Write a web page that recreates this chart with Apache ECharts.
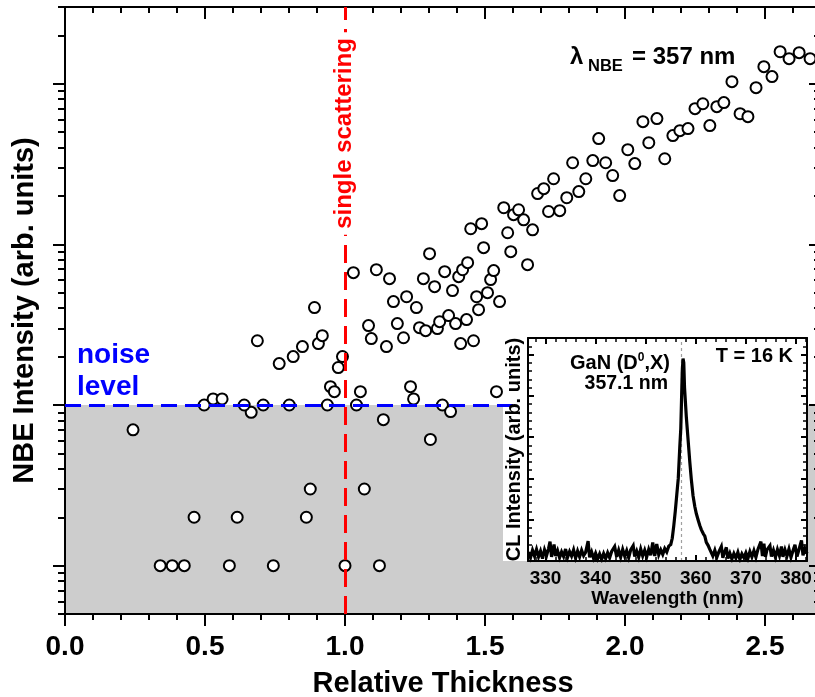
<!DOCTYPE html>
<html><head><meta charset="utf-8">
<script src="https://cdn.jsdelivr.net/npm/echarts@6/dist/echarts.min.js"></script>
<style>html,body{margin:0;padding:0;background:#fff;overflow:hidden}#c{width:815px;height:697px}</style>
</head><body><div id="c"></div>
<script>
// ---- main scatter: relative thickness vs NBE intensity (arb. units, log) ----
const thickness = [0.243,0.340,0.383,0.426,0.461,0.587,0.615,0.744,0.862,0.876,1.000,1.069,1.123,1.137,1.305,0.665,
0.497,0.529,0.561,0.640,0.708,0.801,0.937,1.041,1.348,1.245,1.234,0.948,0.962,1.055,1.541,1.377,
0.687,0.765,0.815,0.848,0.891,0.905,0.919,0.976,0.991,1.030,1.084,1.094,1.112,1.148,1.159,1.173,1.187,1.209,
1.220,1.255,1.266,1.280,1.288,1.302,1.320,1.330,1.338,1.356,1.370,1.384,1.395,1.406,1.413,1.420,1.434,1.438,
1.449,1.459,1.470,1.477,1.488,1.495,1.509,1.520,1.531,1.552,1.567,1.581,1.592,1.602,1.620,1.638,1.652,1.670,
1.688,1.710,1.727,1.745,1.767,1.792,1.813,1.835,1.860,1.885,1.906,1.931,1.956,1.981,2.010,2.035,2.064,2.085,
2.114,2.142,2.171,2.196,2.225,2.250,2.278,2.303,2.328,2.353,2.382,2.411,2.439,2.468,2.496,2.525,2.554,2.586,
2.622,2.661];
const nbeIntensity = [7.0,1.0,1.0,1.0,2.0,1.0,2.0,1.0,2.0,3.0,1.0,3.0,1.0,8.1,6.1,9.0,
10,10.9,10.9,10,10,10,10,10,10,10.9,13.0,13.0,12.1,12.1,12.1,9.1,
25.1,18.1,20.0,23.1,40.4,24.1,27.0,17.1,20.0,66.6,31.2,25.9,69.5,23.1,61.1,44.0,32.1,26.2,
47.2,40.4,30.3,61.1,29.0,87.5,54.5,29.9,33.0,67.6,36.0,51.5,32.1,62.9,24.1,69.5,34.0,76.9,
125,25.1,47.2,39.2,134.5,95.3,50.0,60.3,68.6,44.0,169,118,90.0,153,164,142,74.7,123,
207,222,160,256,162,195,322,213,256,332,455,322,268,201,388,318,580,429,
606,341,475,510,525,699,750,548,719,762,1029,650,623,944,1276,1106,1581,1431,
1559,1431];
const noiseLevel = 10;
const singleScattering = 1.0;

// ---- inset: CL spectrum ----
const wavelength = [326.6,327.0,327.4,327.8,328.2,328.6,329.0,329.4,329.8,330.2,330.6,330.9,331.2,331.7,332.0,332.4,
332.8,333.2,333.6,334.0,334.4,334.8,335.2,335.6,336.0,336.4,336.8,337.2,337.6,338.0,338.5,338.8,339.2,339.6,
340.0,340.4,340.8,341.2,341.6,342.0,342.4,342.8,343.2,343.8,344.2,344.6,345.0,345.4,345.8,346.2,346.6,347.0,
347.5,347.8,348.2,348.6,349.0,349.4,349.8,350.2,350.6,351.0,351.4,351.8,352.2,352.6,353.0,353.4,353.8,354.2,
354.6,355.0,355.3,355.6,355.9,356.2,356.5,356.8,357.0,357.15,357.3,357.45,357.6,357.75,357.9,358.1,358.45,
358.8,359.1,359.45,359.8,360.1,360.45,360.8,361.1,361.5,361.8,362.1,362.45,362.8,363.1,363.4,363.8,364.2,
364.6,365.1,365.4,365.7,366.1,366.4,366.8,367.2,367.6,368.0,368.4,368.8,369.2,369.6,370.0,370.4,370.8,371.2,
371.6,372.0,372.4,373.0,373.3,373.6,373.9,374.2,374.8,375.1,375.5,375.9,376.3,376.7,377.1,377.4,377.8,378.2,
378.6,379.0,379.4,379.8,380.2,380.6,381.1,381.4,381.8,382.2];
const clIntensity = [0.22,0.08,0.26,0.12,0.28,0.10,0.24,0.06,0.27,0.13,0.30,0.47,0.10,0.40,0.12,0.25,
0.08,0.22,0.11,0.29,0.09,0.23,0.12,0.27,0.07,0.24,0.10,0.26,0.13,0.21,0.48,0.09,0.22,0.06,
0.19,0.05,0.17,0.04,0.18,0.06,0.20,0.08,0.23,0.35,0.10,0.26,0.09,0.28,0.12,0.25,0.08,0.27,
0.37,0.11,0.24,0.09,0.29,0.12,0.26,0.10,0.28,0.14,0.45,0.12,0.41,0.15,0.27,0.16,0.30,0.22,
0.36,0.40,0.55,0.85,1.2,1.6,2.0,2.75,3.2,3.9,4.6,4.9,4.8,4.2,3.9,3.5,2.95,
2.4,1.98,1.58,1.32,1.15,1.0,0.86,0.76,0.66,0.60,0.45,0.38,0.28,0.24,0.12,0.26,0.09,
0.22,0.35,0.08,0.20,0.33,0.06,0.19,0.05,0.18,0.07,0.21,0.04,0.17,0.08,0.20,0.06,0.23,0.10,
0.25,0.09,0.28,0.47,0.12,0.42,0.10,0.27,0.37,0.11,0.26,0.09,0.28,0.13,0.35,0.10,0.27,0.12,
0.29,0.09,0.25,0.39,0.11,0.28,0.50,0.14,0.30,0.18];
const peakWavelength = 357.1;

// ---- tick values ----
const mainXLabels = [0, 0.5, 1.0, 1.5, 2.0, 2.5];
const mainYDecades = [1, 10, 100, 1000];
const insetXLabels = [330, 340, 350, 360, 370, 380];
const insetYMajor = [0, 1, 2, 3, 4, 5];

const mainXMinor = [];
for (let i = 1; i <= 27; i++) if (i % 5) mainXMinor.push(i / 10);
const mainYMinor = [];
[0.1, 1, 10, 100, 1000].forEach(d => { for (let k = 2; k <= 9; k++) { const v = d * k; if (v >= 0.5 && v <= 3000) mainYMinor.push(v); } });
const insetXMinor = [];
for (let v = 326; v <= 382; v += 2) if (v % 10) insetXMinor.push(v);
const insetYMinor = [];
for (let i = 1; i <= 27; i++) if (i % 5) insetYMinor.push(i / 5);

const FF = '"Liberation Sans", Arial, sans-serif';
const BLK = '#000';

function ax(o) {
  const base = {
    type: o.type || 'value', gridIndex: o.grid, position: o.pos, min: o.min, max: o.max, z: o.z,
    axisLine: { show: !!o.line, onZero: false, lineStyle: { color: BLK, width: 2 } },
    axisTick: { show: true, inside: !!o.inside, length: o.len, customValues: o.ticks, lineStyle: { color: BLK, width: o.tw || 2 } },
    axisLabel: { show: false },
    splitLine: { show: false }, minorTick: { show: false }, minorSplitLine: { show: false }
  };
  if (o.type === 'log') base.logBase = 10;
  return Object.assign(base, o.extra || {});
}

const xAxes = [
  ax({ grid: 0, pos: 'bottom', min: 0, max: 2.7, z: 3, line: true, len: 12, ticks: mainXLabels, extra: {
    axisLabel: { show: true, customValues: mainXLabels, formatter: v => Number(v).toFixed(1), color: BLK, fontSize: 28, fontWeight: 'bold', fontFamily: FF, margin: 19 },
    name: 'Relative Thickness', nameLocation: 'middle', nameGap: 55,
    nameTextStyle: { color: BLK, fontSize: 29, fontWeight: 'bold', fontFamily: FF } } }),
  ax({ grid: 0, pos: 'bottom', min: 0, max: 2.7, z: 3, len: 6, ticks: mainXMinor }),
  ax({ grid: 0, pos: 'top', min: 0, max: 2.7, z: 3, line: true, inside: true, len: 12, ticks: mainXLabels }),
  ax({ grid: 0, pos: 'top', min: 0, max: 2.7, z: 3, inside: true, len: 6, ticks: mainXMinor }),
  ax({ grid: 1, pos: 'bottom', min: 326.5, max: 382.2, z: 6, line: true, inside: true, len: 6, ticks: insetXLabels, extra: {
    axisLabel: { show: true, customValues: insetXLabels, color: BLK, fontSize: 19, fontWeight: 'bold', fontFamily: FF, margin: 8 },
    name: 'Wavelength (nm)', nameLocation: 'middle', nameGap: 23,
    nameTextStyle: { color: BLK, fontSize: 19, fontWeight: 'bold', fontFamily: FF } } }),
  ax({ grid: 1, pos: 'bottom', min: 326.5, max: 382.2, z: 6, inside: true, len: 4, ticks: insetXMinor, tw: 1.5 }),
  ax({ grid: 1, pos: 'top', min: 326.5, max: 382.2, z: 6, line: true, inside: true, len: 6, ticks: insetXLabels }),
  ax({ grid: 1, pos: 'top', min: 326.5, max: 382.2, z: 6, inside: true, len: 4, ticks: insetXMinor, tw: 1.5 })
];
const yAxes = [
  ax({ type: 'log', grid: 0, pos: 'left', min: 0.5, max: 3000, z: 3, line: true, len: 12, ticks: mainYDecades, extra: {
    name: 'NBE Intensity (arb. units)', nameLocation: 'middle', nameGap: 26,
    nameTextStyle: { color: BLK, fontSize: 29, fontWeight: 'bold', fontFamily: FF } } }),
  ax({ type: 'log', grid: 0, pos: 'left', min: 0.5, max: 3000, z: 3, len: 7, ticks: mainYMinor }),
  ax({ type: 'log', grid: 0, pos: 'right', min: 0.5, max: 3000, z: 3, line: true, inside: true, len: 12, ticks: mainYDecades }),
  ax({ type: 'log', grid: 0, pos: 'right', min: 0.5, max: 3000, z: 3, inside: true, len: 7, ticks: mainYMinor }),
  ax({ grid: 1, pos: 'left', min: 0, max: 5.4, z: 6, line: true, inside: true, len: 6, ticks: insetYMajor, extra: {
    name: 'CL Intensity (arb. units)', nameLocation: 'middle', nameGap: 4,
    nameTextStyle: { color: BLK, fontSize: 20, fontWeight: 'bold', fontFamily: FF } } }),
  ax({ grid: 1, pos: 'left', min: 0, max: 5.4, z: 6, inside: true, len: 4, ticks: insetYMinor, tw: 1.5 }),
  ax({ grid: 1, pos: 'right', min: 0, max: 5.4, z: 6, line: true, inside: true, len: 6, ticks: insetYMajor }),
  ax({ grid: 1, pos: 'right', min: 0, max: 5.4, z: 6, inside: true, len: 4, ticks: insetYMinor, tw: 1.5 })
];

function txt(x, y, text, size, color, align, extra) {
  return Object.assign({
    type: 'text', x: x, y: y, z: 10,
    style: Object.assign({ text: text, fill: color, font: 'bold ' + size + 'px ' + FF,
      align: align, textAlign: align, verticalAlign: 'middle', textVerticalAlign: 'middle' }, (extra && extra.style) || {})
  }, extra && extra.rotation ? { rotation: extra.rotation } : {});
}

const option = {
  animation: false,
  backgroundColor: '#fff',
  grid: [
    { left: 65, top: 7, width: 756, height: 607, outerBoundsMode: 'none', containLabel: false },
    { left: 528, top: 338, width: 279, height: 223, outerBoundsMode: 'none', containLabel: false }
  ],
  xAxis: xAxes,
  yAxis: yAxes,
  graphic: [
    { type: 'rect', z: 3, silent: true, shape: { x: 503, y: 330, width: 305, height: 231 }, style: { fill: '#fff' } },
    txt(570, 57.6, 'λ', 24, BLK, 'left'),
    txt(588, 66.2, 'NBE', 16.5, BLK, 'left'),
    txt(632, 57.6, '= 357 nm', 24, BLK, 'left'),
    txt(77, 355, 'noise', 28, '#0000ff', 'left'),
    txt(77, 387, 'level', 28, '#0000ff', 'left'),
    txt(344, 133.5, 'single scattering', 24, '#ff0000', 'center', { rotation: Math.PI / 2, style: { backgroundColor: '#fff', padding: [0, 6] } }),
    { type: 'text', x: 670, y: 363, z: 10, style: {
      text: '{a|GaN (D}{s|0}{a|,X)}', align: 'right', textAlign: 'right', verticalAlign: 'middle', textVerticalAlign: 'middle',
      rich: { a: { fill: BLK, font: 'bold 20px ' + FF, lineHeight: 22 }, s: { fill: BLK, font: 'bold 12px ' + FF, verticalAlign: 'top', lineHeight: 14 } } } },
    txt(668, 384, '357.1 nm', 19.5, BLK, 'right'),
    txt(793, 356, 'T = 16 K', 20, BLK, 'right')
  ],
  series: [
    { type: 'line', xAxisIndex: 0, yAxisIndex: 0, data: [], z: 1, silent: true,
      markArea: { silent: true, itemStyle: { color: '#cdcdcd' },
        data: [[{ xAxis: 0, yAxis: 0.5 }, { xAxis: 2.7, yAxis: noiseLevel }]] },
      markLine: { silent: true, symbol: ['none', 'none'], label: { show: false },
        data: [
          { xAxis: singleScattering, lineStyle: { color: '#ff0000', width: 3, type: [18, 9] } },
          [{ coord: [0, noiseLevel], lineStyle: { color: '#0000ff', width: 3, type: [16, 8] } }, { coord: [1.6, noiseLevel] }]
        ] } },
    { type: 'scatter', xAxisIndex: 0, yAxisIndex: 0, z: 2, symbol: 'circle', symbolSize: 11,
      itemStyle: { color: '#fff', borderColor: BLK, borderWidth: 2, opacity: 1 },
      data: thickness.map((x, i) => [x, nbeIntensity[i]]) },
    { type: 'line', xAxisIndex: 4, yAxisIndex: 4, z: 5, showSymbol: false, symbol: 'none',
      lineStyle: { color: BLK, width: 3.2, join: 'miter', miterLimit: 4 },
      data: wavelength.map((w, i) => [w, clIntensity[i]]),
      markLine: { silent: true, symbol: ['none', 'none'], label: { show: false },
        lineStyle: { color: '#a0a0a0', width: 1.2, type: [3, 3] },
        data: [{ xAxis: peakWavelength }] } }
  ]
};
const chart = echarts.init(document.getElementById('c'), null, { renderer: 'canvas' });
chart.setOption(option);
</script></body></html>
